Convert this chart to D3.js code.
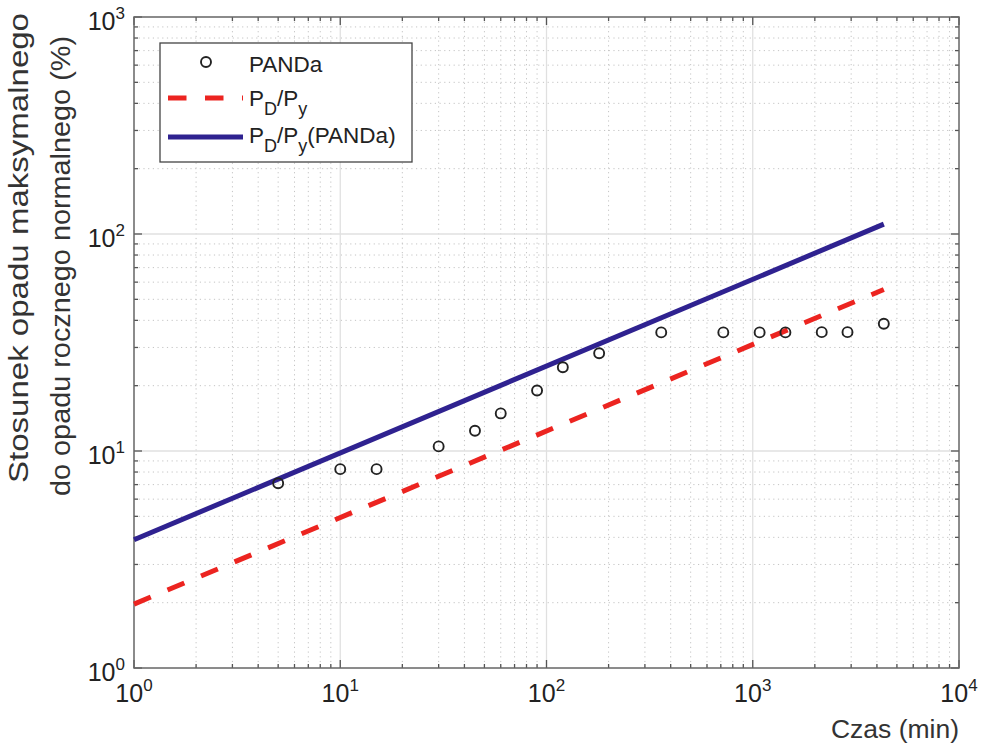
<!DOCTYPE html>
<html><head><meta charset="utf-8">
<script src="https://cdn.jsdelivr.net/npm/d3@7"></script>
<style>body{margin:0;background:#fff}svg text{font-family:"Liberation Sans",Arial,sans-serif}</style>
</head><body>
<svg id="c" width="985" height="750"></svg>
<script>
// Data
const pandaTime = [5,10,15,30,45,60,90,120,180,360,720,1080,1440,2160,2880,4320];
const pandaVal  = [7.1,8.25,8.25,10.5,12.4,14.9,19.0,24.3,28.2,35.2,35.2,35.2,35.2,35.3,35.3,38.6];
const ratioTime = [1,4320];
const ratioVal  = [1.97,55.5];
const ratioPandaTime = [1,4320];
const ratioPandaVal  = [3.9,111];
const xTickExp = [0,1,2,3,4];
const yTickExp = [0,1,2,3];

const svg = d3.select("#c");
const L=134,R=959,T=17,B=668;
const x = d3.scaleLog().domain([1,1e4]).range([L,R]);
const y = d3.scaleLog().domain([1,1e3]).range([B,T]);

const minorX=[],minorY=[];
for(let e=0;e<4;e++)for(let k=2;k<=9;k++)minorX.push(k*Math.pow(10,e));
for(let e=0;e<3;e++)for(let k=2;k<=9;k++)minorY.push(k*Math.pow(10,e));
const majX=xTickExp.map(e=>Math.pow(10,e)), majY=yTickExp.map(e=>Math.pow(10,e));

const g=svg.append("g");
// minor grid
g.selectAll(".mgx").data(minorX).join("line").attr("x1",d=>x(d)).attr("x2",d=>x(d)).attr("y1",T).attr("y2",B)
 .attr("stroke","#c4c4c4").attr("stroke-width",1).attr("stroke-dasharray","1.2,3.5");
g.selectAll(".mgy").data(minorY).join("line").attr("y1",d=>y(d)).attr("y2",d=>y(d)).attr("x1",L).attr("x2",R)
 .attr("stroke","#c4c4c4").attr("stroke-width",1).attr("stroke-dasharray","1.2,3.5");
// major grid
g.selectAll(".Mgx").data(majX.slice(1,-1)).join("line").attr("x1",d=>x(d)).attr("x2",d=>x(d)).attr("y1",T).attr("y2",B)
 .attr("stroke","#e0e0e0").attr("stroke-width",1.3);
g.selectAll(".Mgy").data(majY.slice(1,-1)).join("line").attr("y1",d=>y(d)).attr("y2",d=>y(d)).attr("x1",L).attr("x2",R)
 .attr("stroke","#e0e0e0").attr("stroke-width",1.3);

// axes with inner ticks (all sides)
const tc="#555";
function tickLines(vals,scale,orient,len){
  vals.forEach(v=>{
    const p=scale(v);
    if(orient==="x"){
      g.append("line").attr("x1",p).attr("x2",p).attr("y1",B).attr("y2",B-len).attr("stroke",tc).attr("stroke-width",1.3);
      g.append("line").attr("x1",p).attr("x2",p).attr("y1",T).attr("y2",T+len).attr("stroke",tc).attr("stroke-width",1.3);
    } else {
      g.append("line").attr("y1",p).attr("y2",p).attr("x1",L).attr("x2",L+len).attr("stroke",tc).attr("stroke-width",1.3);
      g.append("line").attr("y1",p).attr("y2",p).attr("x1",R).attr("x2",R-len).attr("stroke",tc).attr("stroke-width",1.3);
    }
  });
}
tickLines(minorX,x,"x",4);tickLines(majX,x,"x",8);
tickLines(minorY,y,"y",4);tickLines(majY,y,"y",8);
g.append("rect").attr("x",L).attr("y",T).attr("width",R-L).attr("height",B-T).attr("fill","none").attr("stroke","#666").attr("stroke-width",1.5);

// tick labels
function expLabel(sel,e){
  sel.append("tspan").text("10");
  sel.append("tspan").attr("dy",-11).attr("font-size",17).text(e);
}
xTickExp.forEach(e=>{
  const t=svg.append("text").attr("x",x(Math.pow(10,e))).attr("y",702).attr("text-anchor","middle")
   .attr("font-size",25).attr("fill","#222");
  expLabel(t,e);
});
yTickExp.forEach(e=>{
  const t=svg.append("text").attr("x",125).attr("y",y(Math.pow(10,e))+13).attr("text-anchor","end")
   .attr("font-size",25).attr("fill","#222");
  expLabel(t,e);
});

// axis labels
svg.append("text").attr("x",959).attr("y",738).attr("text-anchor","end").attr("font-size",26.5).attr("fill","#333").text("Czas (min)");
svg.append("text").attr("transform","translate(27.5,248) rotate(-90)").attr("text-anchor","middle")
  .attr("font-size",27).attr("fill","#333").attr("textLength",470).attr("lengthAdjust","spacingAndGlyphs")
  .text("Stosunek opadu maksymalnego");
svg.append("text").attr("transform","translate(69.5,266) rotate(-90)").attr("text-anchor","middle")
  .attr("font-size",27).attr("fill","#333").attr("textLength",460).attr("lengthAdjust","spacingAndGlyphs")
  .text("do opadu rocznego normalnego (%)");

// lines
const line=d3.line().x(d=>x(d[0])).y(d=>y(d[1]));
svg.append("path").datum(ratioTime.map((t,i)=>[t,ratioVal[i]])).attr("d",line).attr("fill","none")
 .attr("stroke","#ec2420").attr("stroke-width",5).attr("stroke-dasharray","18.2,18.15");
svg.append("path").datum(ratioPandaTime.map((t,i)=>[t,ratioPandaVal[i]])).attr("d",line).attr("fill","none")
 .attr("stroke","#2f2290").attr("stroke-width",5);
// points
svg.selectAll(".pt").data(pandaTime.map((t,i)=>[t,pandaVal[i]])).join("circle")
 .attr("cx",d=>x(d[0])).attr("cy",d=>y(d[1])).attr("r",5).attr("fill","none").attr("stroke","#222").attr("stroke-width",1.9);

// legend
const lg=svg.append("g");
lg.append("rect").attr("x",160).attr("y",43).attr("width",252).attr("height",119).attr("fill","#fff").attr("stroke","#444").attr("stroke-width",1.3);
lg.append("circle").attr("cx",206).attr("cy",62).attr("r",5).attr("fill","none").attr("stroke","#222").attr("stroke-width",1.9);
lg.append("text").attr("x",249).attr("y",72).attr("font-size",22.5).attr("fill","#222").text("PANDa");
lg.append("line").attr("x1",168).attr("x2",243).attr("y1",98).attr("y2",98).attr("stroke","#ec2420").attr("stroke-width",5).attr("stroke-dasharray","18.5,18.5");
lg.append("line").attr("x1",168).attr("x2",243).attr("y1",137).attr("y2",137).attr("stroke","#2f2290").attr("stroke-width",5);
function pdpy(t){
  t.append("tspan").text("P");
  t.append("tspan").attr("dy",9).attr("font-size",18).text("D");
  t.append("tspan").attr("dy",-9).text("/P");
  t.append("tspan").attr("dy",9).attr("font-size",18).text("y");
  return t;
}
pdpy(lg.append("text").attr("x",249).attr("y",106).attr("font-size",22.5).attr("fill","#222"));
const t3=pdpy(lg.append("text").attr("x",249).attr("y",143).attr("font-size",22.5).attr("fill","#222"));
t3.append("tspan").attr("dy",-9).text("(PANDa)");
</script>
</body></html>
